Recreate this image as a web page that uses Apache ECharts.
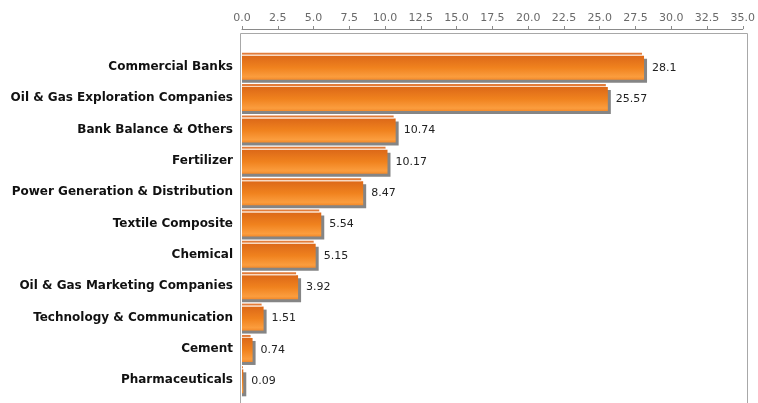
<!DOCTYPE html>
<html>
<head>
<meta charset="utf-8">
<script src="https://cdn.jsdelivr.net/npm/echarts@6/dist/echarts.min.js"></script>
<style>
  html, body { margin: 0; padding: 0; background: #fff; }
  #chart { width: 758px; height: 403px; }
</style>
</head>
<body>
<div id="chart"></div>
<script>
// Sector weights (%), top to bottom
const sectors = [
  'Commercial Banks',
  'Oil & Gas Exploration Companies',
  'Bank Balance & Others',
  'Fertilizer',
  'Power Generation & Distribution',
  'Textile Composite',
  'Chemical',
  'Oil & Gas Marketing Companies',
  'Technology & Communication',
  'Cement',
  'Pharmaceuticals'
];
const weights = [28.1, 25.57, 10.74, 10.17, 8.47, 5.54, 5.15, 3.92, 1.51, 0.74, 0.09];
const axisMin = 0;
const axisMax = 35;
const axisStep = 2.5;

const chart = echarts.init(document.getElementById('chart'), null, { renderer: 'canvas' });

const bodyFill = new echarts.graphic.LinearGradient(0, 0, 0, 1, [
  { offset: 0, color: '#DC6818' },
  { offset: 0.5, color: '#F0821E' },
  { offset: 0.88, color: '#FB9D3E' },
  { offset: 1, color: '#F38A2A' }
]);

function renderBar(params, api) {
  const idx = api.value(0);
  const val = api.value(1);
  const start = api.coord([0, idx]);
  const end = api.coord([val, idx]);
  const cy = start[1];
  const x0 = start[0];
  const w = Math.max(end[0] - x0, 1);
  const sh = 3; // drop shadow offset
  return {
    type: 'group',
    children: [
      { type: 'rect', shape: { x: x0, y: cy - 11 + sh, width: w + sh, height: 24 }, style: { fill: '#858585' } },
      { type: 'rect', shape: { x: x0, y: cy - 11, width: w, height: 24 }, style: { fill: bodyFill } },
      { type: 'rect', shape: { x: x0, y: cy - 14, width: Math.max(w - 2, 1), height: 2 }, style: { fill: '#E27C3A' } },
      { type: 'rect', shape: { x: x0, y: cy - 12, width: Math.max(w - 2, 1), height: 1 }, style: { fill: '#FAD7BC' } },
      {
        type: 'text',
        style: {
          x: x0 + w + sh + 5, y: cy + 1,
          text: String(val),
          fill: '#222',
          font: '11px "DejaVu Sans"',
          align: 'left', verticalAlign: 'middle'
        }
      }
    ]
  };
}

chart.setOption({
  animation: false,
  backgroundColor: '#ffffff',
  grid: { left: 242, right: 13, top: 51, bottom: 7 },
  graphic: [{
    type: 'rect', silent: true, z: -1,
    shape: { x: 240.5, y: 33.5, width: 507, height: 400 },
    style: { fill: 'none', stroke: '#a8a8a8', lineWidth: 1 }
  }],
  xAxis: {
    type: 'value', position: 'top', offset: 22,
    min: axisMin, max: axisMax, interval: axisStep,
    axisLine: { show: true, lineStyle: { color: '#8a8a8a' } },
    axisTick: { show: true, length: 3, lineStyle: { color: '#8a8a8a' } },
    axisLabel: {
      color: '#6a6a6a', fontFamily: 'DejaVu Sans', fontSize: 11, margin: 5,
      formatter: v => v.toFixed(1)
    },
    splitLine: { show: false }
  },
  yAxis: {
    type: 'category', inverse: true, data: sectors,
    axisLine: { show: false }, axisTick: { show: false },
    axisLabel: {
      color: '#111', fontFamily: 'DejaVu Sans', fontWeight: 'bold',
      fontSize: 12, margin: 9
    }
  },
  series: [{
    type: 'custom',
    renderItem: renderBar,
    encode: { x: 1, y: 0 },
    data: weights.map((v, i) => [i, v]),
    clip: false
  }]
});
</script>
</body>
</html>
